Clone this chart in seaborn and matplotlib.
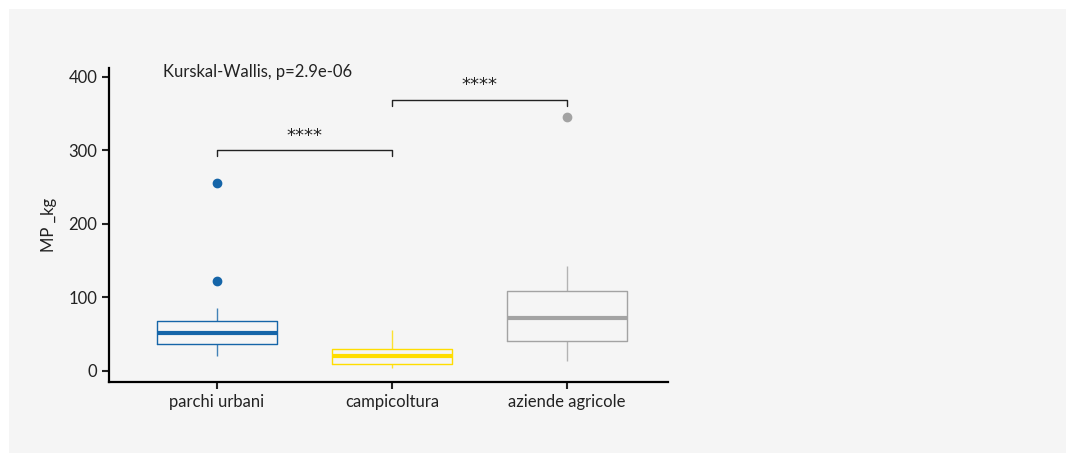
import matplotlib
matplotlib.use("Agg")
import matplotlib.pyplot as plt
import seaborn as sns
import pandas as pd
from matplotlib.patches import Rectangle

# ---- data ----
categories = ["parchi urbani", "campicoltura", "aziende agricole"]
parchi_urbani = [20, 28, 33, 37, 42, 47, 52, 57, 62, 68, 86, 122, 256]
campicoltura = [4, 6, 8, 10, 14, 17, 20, 23, 27, 30, 38, 45, 56]
aziende_agricole = [14, 25, 33, 41, 50, 62, 72, 80, 95, 109, 125, 143, 345]
yticks = [0, 100, 200, 300, 400]
kw_label = "Kurskal-Wallis, p=2.9e-06"
sig_pairs = [(0, 1, 300, "****"), (1, 2, 369, "****")]

colors = ["#1565A8", "#FFDD00", "#A3A3A3"]
bg = "#F5F5F5"

df = pd.DataFrame({
    "group": [categories[0]] * len(parchi_urbani)
    + [categories[1]] * len(campicoltura)
    + [categories[2]] * len(aziende_agricole),
    "MP_kg": parchi_urbani + campicoltura + aziende_agricole,
})

sns.set_theme(style="ticks")
plt.rcParams["font.family"] = ["Lato", "DejaVu Sans"]

fig = plt.figure(figsize=(10.7, 4.53), dpi=100)
fig.patch.set_facecolor("white")
fig.patches.append(Rectangle((9 / 1070, 0), (1066 - 9) / 1070, (453 - 9) / 453,
                             transform=fig.transFigure, facecolor=bg,
                             edgecolor="none", zorder=-10))

ax = fig.add_axes([109 / 1070, 1 - 382 / 453, (668 - 109) / 1070, (382 - 68) / 453])
ax.set_facecolor(bg)

sns.boxplot(data=df, x="group", y="MP_kg", order=categories, ax=ax,
            width=0.69, gap=0, fill=False, linewidth=1.0, showcaps=False,
            flierprops=dict(marker="o", markersize=6))

lines = ax.lines
patches = ax.patches
n = len(categories)
per = len(lines) // n
for i in range(n):
    c = colors[i]
    for ln in lines[i * per:(i + 1) * per]:
        ln.set_color(c)
        ln.set_markerfacecolor(c)
        ln.set_markeredgecolor(c)
        ln.set_alpha(1)
        if ln.get_linestyle() != "None" and len(ln.get_xdata()) == 2:
            ys = ln.get_ydata()
            if ys[0] == ys[1]:
                ln.set_linewidth(3.0)
            else:
                ln.set_alpha(0.8)
for i, p in enumerate(patches[:n]):
    p.set_edgecolor(colors[i])
    p.set_facecolor("none")
    p.set_alpha(0.9)

ax.set_ylim(-15, 412)
ax.set_xlim(-0.617, 2.577)
ax.set_yticks(yticks)
ax.set_xlabel("")
ax.set_ylabel("MP _kg", fontsize=12, color="#222222", labelpad=8)
ax.tick_params(axis="both", labelsize=12, colors="#222222", length=5, width=1.5,
               direction="out")
for s in ["top", "right"]:
    ax.spines[s].set_visible(False)
for s in ["left", "bottom"]:
    ax.spines[s].set_linewidth(1.6)
    ax.spines[s].set_color("black")

# Kruskal-Wallis label
ax.text(-0.31, 407, kw_label, fontsize=12, color="#222222", ha="left", va="center")

# significance brackets
for a, b, y, lab in sig_pairs:
    ax.plot([a, a, b, b], [y - 8, y, y, y - 8], color="#222222", lw=1.0)
    ax.text((a + b) / 2, y + 7, lab, ha="center", va="bottom", fontsize=13,
            color="#222222", family="DejaVu Sans")

fig.savefig("out.png", dpi=100, facecolor="white")
